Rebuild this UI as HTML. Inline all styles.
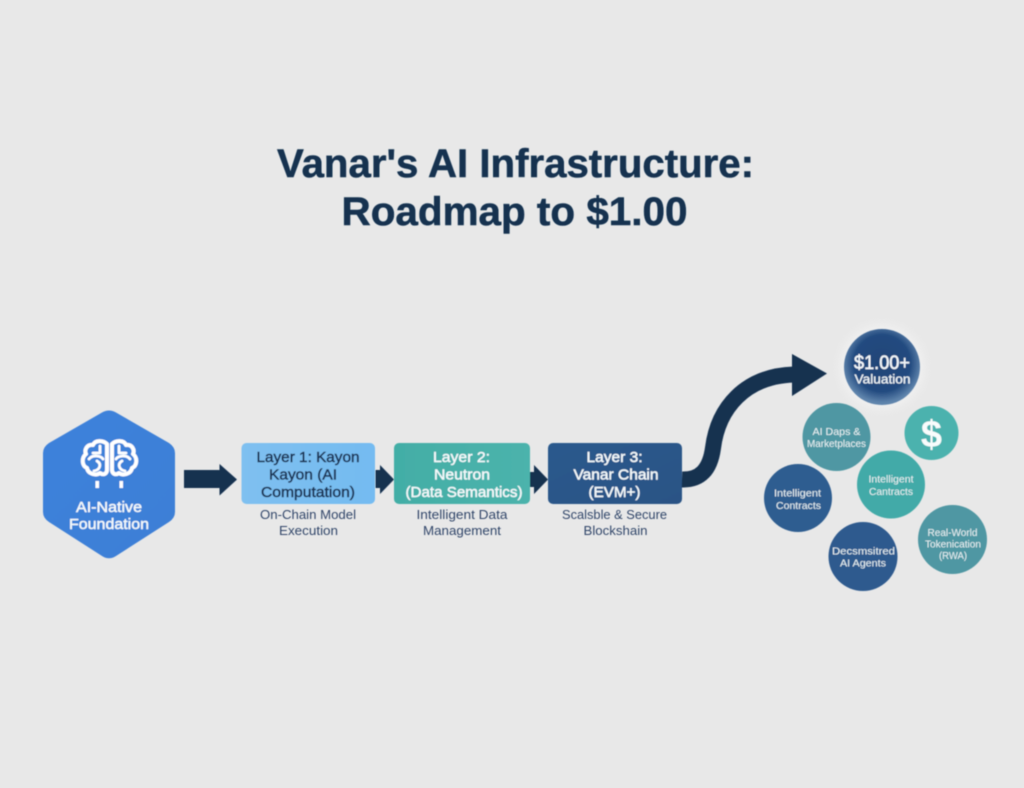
<!DOCTYPE html>
<html lang="en">
<head>
<meta charset="utf-8">
<title>Vanar's AI Infrastructure: Roadmap to $1.00</title>
<style>
html,body{margin:0;padding:0;background:#e8e8e8;}
body{width:1024px;height:788px;overflow:hidden;}
svg{display:block;}
text{font-family:"Liberation Sans",sans-serif;text-anchor:middle;}
.t{font-weight:700;fill:#12304f;font-size:40px;stroke:#12304f;stroke-width:.5px;}
.d{fill:#1c3557;font-size:15px;stroke:#1c3557;stroke-width:.55px;}
.w{fill:#f4f9fb;font-size:15px;stroke:#f4f9fb;stroke-width:.4px;}
.s{fill:#33476a;font-size:12.5px;}
.c{fill:#e8f2f4;font-size:10.5px;}
</style>
</head>
<body>
<svg width="1024" height="788" viewBox="0 0 1024 788" xmlns="http://www.w3.org/2000/svg">
<defs>
<linearGradient id="hex" x1="0" y1="0" x2="1" y2="1"><stop offset="0" stop-color="#3f82db"/><stop offset="1" stop-color="#3d7fd6"/></linearGradient>
<linearGradient id="l1" x1="0" y1="0" x2="1" y2="0"><stop offset="0" stop-color="#7fc0f0"/><stop offset="1" stop-color="#74bbf1"/></linearGradient>
<linearGradient id="l2" x1="0" y1="0" x2="1" y2="0"><stop offset="0" stop-color="#43aea6"/><stop offset="1" stop-color="#4cb3ac"/></linearGradient>
<linearGradient id="l3" x1="0" y1="0" x2="1" y2="1"><stop offset="0" stop-color="#2c5a8d"/><stop offset="1" stop-color="#2b5385"/></linearGradient>
<radialGradient id="val" cx="50%" cy="45%" r="52%"><stop offset="0" stop-color="#1f4477"/><stop offset=".72" stop-color="#234b80"/><stop offset="1" stop-color="#5f84ac"/></radialGradient>
<filter id="glow" x="-30%" y="-30%" width="160%" height="160%"><feGaussianBlur stdDeviation="5"/></filter>
<filter id="soft" x="-5%" y="-5%" width="110%" height="110%"><feGaussianBlur stdDeviation=".5"/></filter>
</defs>

<rect width="1024" height="788" fill="#e8e8e8"/>

<g filter="url(#soft)">
<text class="t" x="515.500" y="177" textLength="477" lengthAdjust="spacingAndGlyphs">Vanar's AI Infrastructure:</text>
<text class="t" x="514.500" y="225" textLength="346" lengthAdjust="spacingAndGlyphs">Roadmap to $1.00</text>

<path d="M102,412.500 Q109,408.500 116,412.500 L169,443 Q175,447 175,453 L175,512 Q175,518 169,522 L116,556 Q109,560.500 102,556 L49,522 Q43,518 43,512 L43,453 Q43,447 49,443 Z" fill="url(#hex)"/>

<g fill="none" stroke="#fff" stroke-linecap="round" stroke-linejoin="round">
<path stroke-width="4" d="M107,444 C103,440 95,440 93,445 C87,444 84,450 86,454 C81,458 82,466 87,468 C88,474 96,476 100,473 C104,476 107,473 107,470 Z"/>
<path stroke-width="4" d="M112,444 C116,440 124,440 126,445 C132,444 135,450 133,454 C138,458 137,466 132,468 C131,474 123,476 119,473 C115,476 112,473 112,470 Z"/>
<path stroke-width="2.800" d="M100,446 V453 H93 M89,459 C93,454 101,456 103,459 M94,471 C100,470 102,464 97,461"/>
<path stroke-width="2.800" d="M119,446 V453 H126 M130,459 C126,454 118,456 116,459 M125,471 C119,470 117,464 122,461"/>
</g>
<rect x="95.500" y="481" width="3.500" height="7" fill="#fff"/>
<rect x="119.500" y="481" width="3.500" height="7" fill="#fff"/>
<text class="w" x="109" y="512" textLength="66" lengthAdjust="spacingAndGlyphs">AI-Native</text>
<text class="w" x="109" y="529" textLength="80" lengthAdjust="spacingAndGlyphs">Foundation</text>

<path d="M184,470 H219.500 V464 L237,479.500 L219.500,495.500 V488 H184 Z" fill="#12304f"/>

<rect x="241.500" y="443" width="133.500" height="61" rx="5" fill="url(#l1)"/>
<text class="d" x="308" y="462" textLength="103" lengthAdjust="spacingAndGlyphs">Layer 1: Kayon</text>
<text class="d" x="303" y="479.500" textLength="68" lengthAdjust="spacingAndGlyphs">Kayon (AI</text>
<text class="d" x="308" y="497" textLength="94" lengthAdjust="spacingAndGlyphs">Computation)</text>

<rect x="394" y="443" width="136" height="61" rx="5" fill="url(#l2)"/>
<text class="w" x="461.500" y="462" textLength="57" lengthAdjust="spacingAndGlyphs">Layer 2:</text>
<text class="w" x="462" y="479.500" textLength="56" lengthAdjust="spacingAndGlyphs">Neutron</text>
<text class="w" x="464" y="497" textLength="117" lengthAdjust="spacingAndGlyphs">(Data Semantics)</text>

<rect x="548" y="443" width="134" height="61" rx="5" fill="url(#l3)"/>
<text class="w" x="614.500" y="462" textLength="56" lengthAdjust="spacingAndGlyphs">Layer 3:</text>
<text class="w" x="616" y="479.500" textLength="85" lengthAdjust="spacingAndGlyphs">Vanar Chain</text>
<text class="w" x="614.500" y="497" textLength="52" lengthAdjust="spacingAndGlyphs">(EVM+)</text>

<path d="M375.500,470 H380 V465 L394,479.500 L380,494 V488 H375.500 Z" fill="#12304f"/>
<path d="M530,472 H534 V465 L548,479.500 L534,494 V487 H530 Z" fill="#12304f"/>

<text class="s" x="308" y="519" textLength="96" lengthAdjust="spacingAndGlyphs">On-Chain Model</text>
<text class="s" x="308.500" y="535" textLength="59" lengthAdjust="spacingAndGlyphs">Execution</text>
<text class="s" x="462" y="519" textLength="91" lengthAdjust="spacingAndGlyphs">Intelligent Data</text>
<text class="s" x="462" y="535" textLength="78" lengthAdjust="spacingAndGlyphs">Management</text>
<text class="s" x="614.500" y="519" textLength="105" lengthAdjust="spacingAndGlyphs">Scalsble &amp; Secure</text>
<text class="s" x="615.500" y="535" textLength="64" lengthAdjust="spacingAndGlyphs">Blockshain</text>

<path d="M682,479.500 C700,480 710,470 713,448 C718,408 745,376 794,374.500" fill="none" stroke="#12304f" stroke-width="16"/>
<path d="M792,354 L827,373.500 L792,396 Z" fill="#12304f"/>
</g>

<circle cx="882" cy="367" r="42" fill="#ffffff" opacity=".4" filter="url(#glow)"/>
<g filter="url(#soft)">
<circle cx="882" cy="367" r="38" fill="url(#val)"/>
<text x="882" y="369" font-size="19" fill="#f4f8fb" stroke="#f4f8fb" stroke-width=".4" textLength="56" lengthAdjust="spacingAndGlyphs">$1.00+</text>
<text x="882.500" y="383.500" font-size="13" fill="#edf3f7" stroke="#edf3f7" stroke-width=".25" textLength="56" lengthAdjust="spacingAndGlyphs">Valuation</text>

<circle cx="836.500" cy="437" r="34" fill="#4f97a3"/>
<text class="c" x="836.500" y="435" textLength="48" lengthAdjust="spacingAndGlyphs">AI Daps &amp;</text>
<text class="c" x="836.500" y="447" textLength="59" lengthAdjust="spacingAndGlyphs">Marketplaces</text>

<circle cx="931.500" cy="433" r="27" fill="#4cb2ae"/>
<text x="931.500" y="447" font-size="38" font-weight="700" fill="#f8fcfc">$</text>

<circle cx="891" cy="484.500" r="34" fill="#43aaa8"/>
<text class="c" x="891" y="482.500" textLength="45" lengthAdjust="spacingAndGlyphs">Intelligent</text>
<text class="c" x="891" y="495" textLength="44" lengthAdjust="spacingAndGlyphs">Cantracts</text>

<circle cx="798" cy="498" r="34" fill="#2e5d90"/>
<text class="c" x="797.500" y="496.500" textLength="47" lengthAdjust="spacingAndGlyphs">Intelligent</text>
<text class="c" x="798.500" y="509" textLength="45" lengthAdjust="spacingAndGlyphs">Contracts</text>

<circle cx="863" cy="556.500" r="34.500" fill="#2d5a8e"/>
<text class="c" x="863.500" y="554.500" textLength="63" lengthAdjust="spacingAndGlyphs">Decsmsitred</text>
<text class="c" x="863" y="566.500" textLength="46" lengthAdjust="spacingAndGlyphs">AI Agents</text>

<circle cx="952.500" cy="539.500" r="34.500" fill="#4f97a3"/>
<text class="c" x="952.500" y="536" textLength="50" lengthAdjust="spacingAndGlyphs">Real-World</text>
<text class="c" x="953" y="547.500" textLength="56" lengthAdjust="spacingAndGlyphs">Tokenication</text>
<text class="c" x="953" y="559" textLength="28" lengthAdjust="spacingAndGlyphs">(RWA)</text>
</g>
</svg>
</body>
</html>
